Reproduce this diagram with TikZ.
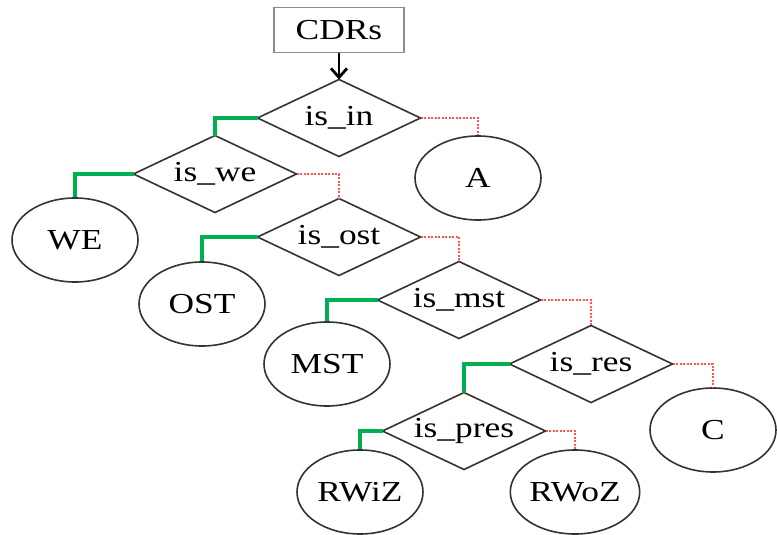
\documentclass[tikz,border=0pt]{standalone}
\usepackage{fontspec}
\setmainfont{Liberation Serif}[FakeStretch=1.22]
\usetikzlibrary{arrows.meta,shapes.geometric}
\definecolor{yesgreen}{rgb}{0.000, 0.690, 0.314}
\definecolor{nored}{rgb}{1.000, 0.330, 0.330}
\definecolor{boxgrey}{rgb}{0.550, 0.550, 0.550}
\definecolor{edgegrey}{rgb}{0.200, 0.200, 0.200}

\tikzset{
  rootbox/.style={draw=boxgrey,line width=1.6pt,minimum width=130pt,minimum height=45pt,inner sep=0pt,font=\fontsize{29}{32}\selectfont},
  test/.style={diamond,aspect=2.1,draw=edgegrey,line width=1.6pt,minimum width=163pt,minimum height=77pt,inner sep=0pt,outer sep=0pt,font=\fontsize{29}{32}\selectfont},
  leaf/.style={ellipse,draw=edgegrey,line width=1.6pt,minimum width=126pt,minimum height=84pt,inner sep=0pt,font=\fontsize{29}{32}\selectfont},
  yesbranch/.style={yesgreen,line width=4pt},
  nobranch/.style={nored,line width=2.5pt,dash pattern=on 2pt off 1.5pt},
}

\begin{document}
\begin{tikzpicture}[x=1pt,y=-1pt]
\useasboundingbox (0,0) rectangle (777,535);
\clip (0,0) rectangle (777,535);

% root
\node [rootbox] (cdrs) at (339,30) {CDRs};

% tests
\node [test] (isin)   at (339,118) {is\_in};
\node [test] (iswe)   at (215,174) {is\_we};
\node [test] (isost)  at (339,237) {is\_ost};
\node [test] (ismst)  at (459,300) {is\_mst};
\node [test] (isres)  at (591,364) {is\_res};
\node [test] (ispres) at (464,431) {is\_pres};

% leaves
\node [leaf] (A)    at (478,178) {A};
\node [leaf] (WE)   at (75,240)  {WE};
\node [leaf] (OST)  at (202,304) {OST};
\node [leaf] (MST)  at (327,364) {MST};
\node [leaf] (C)    at (713,430) {C};
\node [leaf] (RWiZ) at (360,492) {RWiZ};
\node [leaf] (RWoZ) at (575,492) {RWoZ};

% entry arrow
\draw [-{Straight Barb[length=9pt,width=16pt]},line width=2.8pt] (cdrs.south) -- (isin.north);

% yes branches
\draw [yesbranch] (isin.west)   -| (iswe.north);
\draw [yesbranch] (iswe.west)   -| (WE.north);
\draw [yesbranch] (isost.west)  -| (OST.north);
\draw [yesbranch] (ismst.west)  -| (MST.north);
\draw [yesbranch] (isres.west)  -| (ispres.north);
\draw [yesbranch] (ispres.west) -| (RWiZ.north);

% no branches
\draw [nobranch] (isin.east)   -| (A.north);
\draw [nobranch] (iswe.east)   -| (isost.north);
\draw [nobranch] (isost.east)  -| (ismst.north);
\draw [nobranch] (ismst.east)  -| (isres.north);
\draw [nobranch] (isres.east)  -| (C.north);
\draw [nobranch] (ispres.east) -| (RWoZ.north);
\end{tikzpicture}
\end{document}
